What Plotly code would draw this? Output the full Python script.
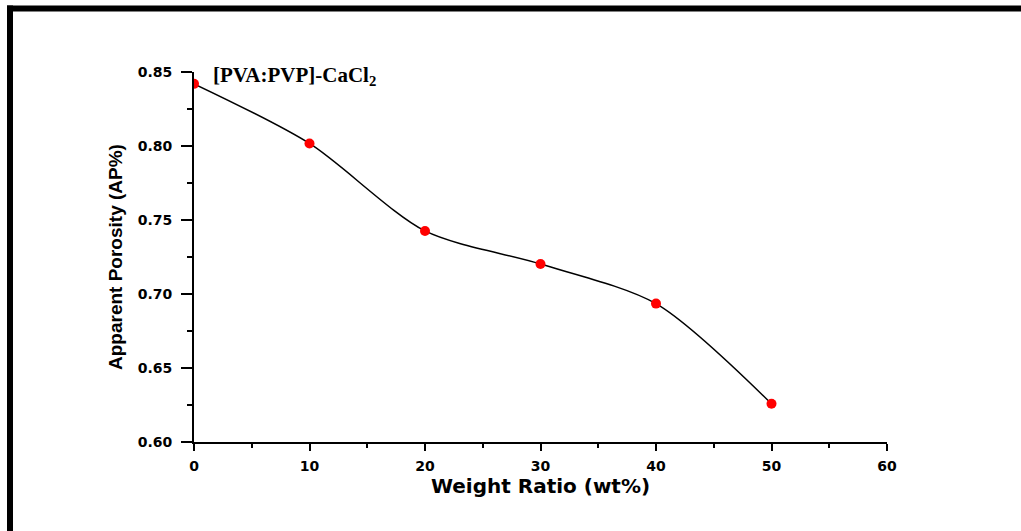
import plotly.graph_objects as go

weight_ratio = [0, 10, 20, 30, 40, 50]
porosity = [0.842, 0.8017, 0.7426, 0.7203, 0.6935, 0.6258]
x_ticks = [0, 10, 20, 30, 40, 50, 60]
y_ticks = [0.60, 0.65, 0.70, 0.75, 0.80, 0.85]

fig = go.Figure()
fig.add_trace(go.Scatter(
    x=weight_ratio, y=porosity, mode="lines",
    line=dict(color="black", width=1.5, shape="spline", smoothing=0.8),
    showlegend=False, hoverinfo="skip"))
fig.add_trace(go.Scatter(
    x=weight_ratio, y=porosity, mode="markers",
    marker=dict(color="#ff0000", size=10, line=dict(width=0)),
    showlegend=False))

L, R, T, B = 194, 887, 72.3, 441.7
W, H = R - L, B - T
def px(x): return (x - L) / W
def py(y): return (B - y) / H

tickfont = dict(family="DejaVu Sans", size=14, weight="bold", color="black")

fig.update_layout(
    width=1021, height=531,
    margin=dict(l=L, r=1021 - R, t=T, b=531 - B, pad=0),
    paper_bgcolor="white", plot_bgcolor="white",
    font=dict(family="Arial", color="black"),
    xaxis=dict(
        range=[0, 60], tickvals=x_ticks, ticktext=[str(v) for v in x_ticks],
        showgrid=False, zeroline=False, showline=True, linecolor="black", linewidth=2,
        ticks="outside", ticklen=7, tickwidth=2, tickcolor="black",
        ticklabelstandoff=3,
        minor=dict(dtick=5, tick0=0, ticks="outside", ticklen=4, tickwidth=2, tickcolor="black"),
        tickfont=tickfont,
        title=dict(text="Weight Ratio (wt%)", standoff=3,
                   font=dict(family="DejaVu Sans", size=20, weight="bold", color="black")),
    ),
    yaxis=dict(
        range=[0.60, 0.85], tickvals=y_ticks, ticktext=["%.2f" % v for v in y_ticks],
        showgrid=False, zeroline=False, showline=True, linecolor="black", linewidth=2,
        ticks="outside", ticklen=11, tickwidth=2, tickcolor="black",
        ticklabelstandoff=6,
        minor=dict(dtick=0.025, tick0=0.6, ticks="outside", ticklen=5, tickwidth=2, tickcolor="black"),
        tickfont=tickfont,
        title=dict(text="Apparent Porosity (AP%)", standoff=10,
                   font=dict(family="Arial", size=19, weight="bold", color="black")),
    ),
    annotations=[
        dict(text="<b>[PVA:PVP]-CaCl<sub>2</sub></b>", xref="paper", yref="paper",
             x=px(211), y=py(76), xanchor="left", yanchor="middle", showarrow=False,
             font=dict(family="Liberation Serif", size=21, color="black")),
        dict(text="Apparent porosity of the poly", xref="paper", yref="paper",
             x=px(561), y=py(-18), xanchor="left", yanchor="middle", showarrow=False,
             font=dict(family="Liberation Serif", size=34, color="black")),
    ],
    shapes=[
        dict(type="line", xref="paper", yref="paper", x0=px(7), x1=px(1030),
             y0=py(9), y1=py(9), line=dict(color="black", width=6)),
        dict(type="line", xref="paper", yref="paper", x0=px(10), x1=px(10),
             y0=py(6), y1=py(540), line=dict(color="black", width=6)),
    ],
)

fig.write_html("out.html", config={"displayModeBar": False},
               post_script="document.body.style.margin='0';document.body.style.overflow='hidden';")
